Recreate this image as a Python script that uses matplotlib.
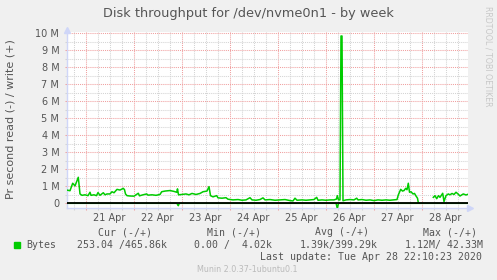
import matplotlib

matplotlib.use("Agg")
import matplotlib.pyplot as plt
import numpy as np
from matplotlib.patches import Rectangle

W, H = 497, 280

# Hours since 20 Apr 00:00 and throughput in M bytes/s (write shown +, read shown -)
write_hours = [
    14.6, 16.25, 17.6, 18.75, 20.4, 21.25, 22.25, 23.75, 25.25, 26.25, 26.75,
    28.25, 29.5, 30.25, 31.25, 32.9, 33.75, 34.75, 36.25, 37.25, 38.25, 39.75,
    41.25, 42.9, 43.5, 44.0, 44.75, 46.25, 48.25, 50.4, 51.0, 52.75, 54.6,
    55.25, 57.25, 59.25, 61.25, 62.1, 63.75, 66.25, 68.25, 69.6, 70.0, 70.5,
    72.25, 74.25, 75.75, 77.25, 79.25, 81.25, 82.75, 84.75, 85.75, 86.5,
    87.75, 89.6, 90.25, 92.25, 94.25, 95.25, 97.75, 100.25, 102.25, 104.25,
    106.25, 107.25, 109.25, 111.25, 112.75, 113.75, 116.25, 118.75, 121.25,
    123.75, 126.25, 127.75, 128.75, 129.75, 132.25, 134.25, 136.25, 138.25,
    139.6, 140.25, 142.25, 144.25, 146.25, 148.25, 149.5, 149.9, 150.5,
    151.25, 151.75, 152.25, 152.75, 154.25, 156.25, 158.25, 159.6, 160.25,
    162.25, 164.25, 166.25, 168.25, 170.25, 172.25, 174.25, 176.25, 178.25,
    179.75, 180.4, 181.6, 182.5, 183.25, 184.1, 184.75, 185.4, 186.0, 186.75,
    187.75, 188.5, 189.25, 190.0, 190.4, 191.0, 197.9, 198.75, 199.6, 200.5,
    201.25, 202.6, 203.25, 204.25, 205.4, 206.25, 207.25, 208.25, 209.25,
    210.25, 211.25, 212.9, 214.25, 215.0,
]
write_vals = [
    0.78, 0.74, 1.18, 1.02, 1.53, 0.55, 0.47, 0.50, 0.45, 0.65, 0.47,
    0.50, 0.45, 0.63, 0.47, 0.62, 0.50, 0.55, 0.55, 0.68, 0.62, 0.82,
    0.78, 0.88, 0.80, 0.55, 0.45, 0.43, 0.42, 0.59, 0.44, 0.50, 0.55,
    0.48, 0.50, 0.47, 0.52, 0.68, 0.72, 0.75, 0.70, 0.65, 0.85, 0.50,
    0.52, 0.55, 0.50, 0.58, 0.52, 0.58, 0.68, 0.72, 0.98, 0.45,
    0.38, 0.45, 0.32, 0.30, 0.33, 0.24, 0.20, 0.22, 0.18, 0.20,
    0.33, 0.20, 0.18, 0.22, 0.32, 0.20, 0.22, 0.18, 0.20,
    0.22, 0.16, 0.14, 0.30, 0.18, 0.20, 0.18, 0.20, 0.22,
    0.35, 0.18, 0.20, 0.18, 0.20, 0.20, 0.25, 0.45, 0.20,
    0.20, 9.84, 9.84, 0.15, 0.20, 0.22, 0.20, 0.30, 0.20,
    0.22, 0.18, 0.20, 0.16, 0.20, 0.18, 0.20, 0.18, 0.20,
    0.22, 0.49, 0.82, 0.72, 0.75, 0.88, 0.80, 1.18, 0.65, 0.68,
    0.55, 0.58, 0.43, 0.30, 0.04, np.nan, 0.35, 0.45, 0.27, 0.45,
    0.35, 0.59, 0.10, 0.45, 0.55, 0.50, 0.58, 0.52, 0.65,
    0.55, 0.43, 0.55, 0.49, 0.52,
]
read_hours = [14.6, 69.5, 70.0, 70.4, 70.9, 149.3, 149.9, 150.5, 215.0]
read_vals = [0.0, 0.0, -0.05, -0.14, 0.0, 0.0, -0.30, 0.0, 0.0]

day_midnights = [24, 48, 72, 96, 120, 144, 168, 192]
day_labels = ["21 Apr", "22 Apr", "23 Apr", "24 Apr", "25 Apr", "26 Apr", "27 Apr", "28 Apr"]
quarter_hours = [h + o for h in range(0, 216, 24) for o in (6, 12, 18)]
y_ticks = [0, 1, 2, 3, 4, 5, 6, 7, 8, 9, 10]
y_labels = ["0", "1 M", "2 M", "3 M", "4 M", "5 M", "6 M", "7 M", "8 M", "9 M", "10 M"]
y_half = [0.5, 1.5, 2.5, 3.5, 4.5, 5.5, 6.5, 7.5, 8.5, 9.5]

legend_heads = ["Cur (-/+)", "Min (-/+)", "Avg (-/+)", "Max (-/+)"]
legend_vals = ["253.04 /465.86k", "0.00 /  4.02k", "1.39k/399.29k", "1.12M/ 42.33M"]

TXT = "#555555"
GREEN = "#00CC00"
AXIS = "#CFD6F8"
GRID = "#D4D4D4"
MGRID = "#F0A0A0"
DOT = (0, (1, 1))


def fx(x):
    return x / W


def fy(y):
    return 1 - y / H


fig = plt.figure(figsize=(W / 100, H / 100), dpi=100, facecolor="#F0F0F0")
ax = fig.add_axes([fx(67), fy(208.3), (468 - 67) / W, (208.3 - 32) / H])
ax.set_facecolor("white")

# grid
ax.set_xticks(day_midnights)
ax.set_xticklabels([])
ax.set_xticks(quarter_hours, minor=True)
ax.set_yticks(y_ticks, labels=y_labels)
ax.set_yticks(y_half, minor=True)
ax.set_xlim(14.75, 215.25)
ax.set_ylim(-0.294, 10.076)
ax.grid(which="minor", color=GRID, linestyle=DOT, linewidth=0.75)
ax.grid(which="major", color=MGRID, linestyle=DOT, linewidth=0.75)
ax.set_axisbelow(True)
ax.tick_params(which="both", length=1.5, width=0.75, labelsize=7,
               labelcolor=TXT, pad=4)
ax.tick_params(which="major", color=MGRID)
ax.tick_params(which="minor", color=GRID)

for h, lab in zip(day_midnights, day_labels):
    ax.text(h + 12, -0.053, lab, transform=ax.get_xaxis_transform(),
            ha="center", va="center", fontsize=7, color=TXT)

for side in ("top", "right"):
    ax.spines[side].set_visible(False)
for side in ("left", "bottom"):
    ax.spines[side].set_color(AXIS)
    ax.spines[side].set_linewidth(1.0)
ax.plot([0], [1.014], marker="^", ms=4, color=AXIS, mec=AXIS,
        transform=ax.transAxes, clip_on=False)
ax.plot([1.006], [0], marker=">", ms=4, color=AXIS, mec=AXIS,
        transform=ax.transAxes, clip_on=False)

# data
ax.plot(read_hours, read_vals, color=GREEN, linewidth=1.1, zorder=3)
ax.plot(write_hours, write_vals, color=GREEN, linewidth=1.1, zorder=3)
ax.axhline(0, color="black", linewidth=1.3, zorder=4)
ax.set_xlim(14.75, 215.25)
ax.set_ylim(-0.294, 10.076)

# texts
fig.text(fx(248.3), fy(13.5), "Disk throughput for /dev/nvme0n1 - by week",
         ha="center", va="center", fontsize=9.3, color=TXT)
fig.text(fx(10.5), fy(119), "Pr second read (-) / write (+)", rotation=90,
         ha="center", va="center", fontsize=8, color=TXT)
fig.text(fx(488), fy(56), "RRDTOOL / TOBI OETIKER", rotation=270,
         ha="center", va="center", fontsize=5.7, color="#C8C8C8")

mono = "DejaVu Sans Mono"
head_x = [97.7, 206.7, 315.0, 422.7]
val_x = [77.3, 194.3, 299.3, 405.0]
for x, s in zip(head_x, legend_heads):
    fig.text(fx(x), fy(232.3), s, ha="left", va="center", fontsize=7.1,
             family=mono, color=TXT)
fig.add_artist(Rectangle((fx(14), fy(248)), 6 / W, 6 / H,
                         transform=fig.transFigure, color=GREEN))
fig.text(fx(26.3), fy(244.7), "Bytes", ha="left", va="center", fontsize=7.1,
         family=mono, color=TXT)
for x, s in zip(val_x, legend_vals):
    fig.text(fx(x), fy(244.7), s, ha="left", va="center", fontsize=7.1,
             family=mono, color=TXT)
fig.text(fx(482.5), fy(256.7), "Last update: Tue Apr 28 22:10:23 2020",
         ha="right", va="center", fontsize=7.1, family=mono, color=TXT)
fig.text(fx(247.5), fy(269), "Munin 2.0.37-1ubuntu0.1", ha="center",
         va="center", fontsize=5.8, color="#BBBBBB")

fig.savefig("out.png", dpi=100, facecolor=fig.get_facecolor())
